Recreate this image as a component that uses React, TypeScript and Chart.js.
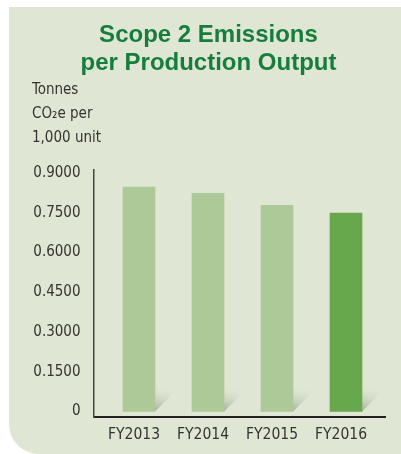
import React, { useEffect, useRef } from "react";
import { Chart, registerables } from "chart.js";

Chart.register(...registerables);

const categories = ["FY2013", "FY2014", "FY2015", "FY2016"];
const emissions = [0.848, 0.824, 0.779, 0.749];
const yTicks = [0, 0.15, 0.3, 0.45, 0.6, 0.75, 0.9];
const yTickLabels = ["0", "0.1500", "0.3000", "0.4500", "0.6000", "0.7500", "0.9000"];
const titleLines = ["Scope 2 Emissions", "per Production Output"];
const unitLines = ["Tonnes", "CO\u2082e per", "1,000 unit"];

const LIGHT = "#adc998";
const DARK = "#66a84b";
const BG = "#dfe7d4";
const NARROW = "'DejaVu Sans Condensed', 'Liberation Sans', Arial, sans-serif";

const shadowPlugin = {
  id: "barShadow",
  beforeDatasetsDraw(chart: any) {
    const ctx = chart.ctx;
    const meta = chart.getDatasetMeta(0);
    meta.data.forEach((bar: any) => {
      const right = bar.x + bar.width / 2;
      const bottom = bar.base;
      const s = 26;
      const g = ctx.createLinearGradient(right, bottom, right + 6, bottom - s);
      g.addColorStop(0, "rgba(150,160,140,0.8)");
      g.addColorStop(1, "rgba(223,231,212,0)");
      ctx.save();
      ctx.beginPath();
      ctx.moveTo(right, bottom);
      ctx.lineTo(right + s, bottom - s);
      ctx.lineTo(right, bottom - s);
      ctx.closePath();
      ctx.fillStyle = g;
      ctx.fill();
      ctx.restore();
    });
  },
};

export default function App() {
  const ref = useRef<HTMLCanvasElement | null>(null);

  useEffect(() => {
    if (!ref.current) return;
    const chart = new Chart(ref.current, {
      type: "bar",
      data: {
        labels: categories,
        datasets: [
          {
            data: emissions,
            backgroundColor: categories.map((_, i) => (i === categories.length - 1 ? DARK : LIGHT)),
            barThickness: 32,
            base: 0,
            borderWidth: 0,
          },
        ],
      },
      plugins: [shadowPlugin],
      options: {
        animation: false,
        responsive: false,
        maintainAspectRatio: false,
        layout: { padding: { left: 23, right: 16, top: 0, bottom: 2 } },
        plugins: {
          legend: { display: false },
          tooltip: { enabled: false },
          title: {
            display: true,
            text: titleLines,
            color: "#177d3c",
            font: { family: "'Liberation Sans', Arial, sans-serif", size: 24, weight: "bold", lineHeight: 1.15 },
            padding: { top: 15, bottom: 0 },
          },
          subtitle: {
            display: true,
            text: unitLines,
            align: "start",
            color: "#333333",
            font: { family: NARROW, size: 15, lineHeight: 24 / 15 },
            padding: { top: 1, bottom: 20 },
          },
        },
        scales: {
          x: {
            grid: { display: false, drawTicks: false },
            border: { display: true, color: "#222222", width: 2 },
            ticks: { color: "#333333", font: { family: NARROW, size: 15.5 }, padding: 8, labelOffset: -5 },
            afterBuildTicks: (scale: any) => {
              scale._startValue = -0.6594;
              scale._valueRange = 4.2246;
            },
          },
          y: {
            min: -0.0227,
            max: 0.9114,
            grid: { display: false, drawTicks: false },
            border: { display: true, color: "#444444", width: 1.5 },
            afterBuildTicks: (scale: any) => {
              scale.ticks = yTicks.map((v) => ({ value: v }));
            },
            afterFit: (scale: any) => {
              scale.width = 61.5;
            },
            ticks: {
              color: "#333333",
              font: { family: NARROW, size: 15 },
              padding: 13,
              callback: (v: any) => {
                const i = yTicks.findIndex((t) => Math.abs(t - Number(v)) < 1e-6);
                return i >= 0 ? yTickLabels[i] : "";
              },
            },
          },
        },
      },
    } as any);
    return () => chart.destroy();
  }, []);

  return (
    <div
      style={{
        position: "fixed",
        left: 9,
        top: 7,
        right: 0,
        bottom: 0,
        background: BG,
        borderBottomLeftRadius: 30,
        overflow: "hidden",
      }}
    >
      <canvas ref={ref} width={392} height={447} style={{ display: "block" }} />
    </div>
  );
}
